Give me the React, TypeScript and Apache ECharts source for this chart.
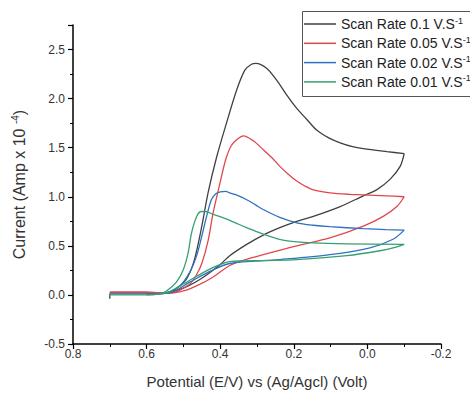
import React, { useEffect, useRef } from "react";
import * as echarts from "echarts";

const rates = ["0.1", "0.05", "0.02", "0.01"];
const colors = ["#404040", "#e0474c", "#2f72c0", "#36a070"];

// Scan 0.1 V/s — forward sweep (0.7 V -> -0.1 V)
const potAf = [0.70, 0.699, 0.65, 0.60, 0.56, 0.53, 0.51, 0.49, 0.47, 0.45, 0.433, 0.41, 0.383, 0.355, 0.333, 0.315, 0.303, 0.274, 0.247, 0.22, 0.192, 0.165, 0.138, 0.105, 0.074, 0.04, 0.011, -0.053, -0.1];
const curAf = [-0.04, 0.02, 0.02, 0.02, 0.02, 0.04, 0.09, 0.17, 0.36, 0.70, 1.04, 1.40, 1.75, 2.09, 2.29, 2.35, 2.36, 2.31, 2.19, 2.04, 1.90, 1.79, 1.68, 1.60, 1.55, 1.51, 1.49, 1.46, 1.44];
// Scan 0.1 V/s — reverse sweep (-0.1 V -> 0.6 V)
const potAr = [-0.1, -0.089, -0.062, -0.025, 0.011, 0.074, 0.147, 0.192, 0.238, 0.283, 0.328, 0.374, 0.40, 0.45, 0.50, 0.55, 0.60];
const curAr = [1.44, 1.31, 1.18, 1.07, 1.01, 0.90, 0.80, 0.75, 0.685, 0.61, 0.515, 0.40, 0.31, 0.17, 0.07, 0.02, 0.01];

// Scan 0.05 V/s
const potBf = [0.70, 0.65, 0.60, 0.56, 0.52, 0.50, 0.48, 0.465, 0.45, 0.433, 0.419, 0.40, 0.385, 0.37, 0.352, 0.337, 0.31, 0.283, 0.26, 0.238, 0.215, 0.192, 0.17, 0.147, 0.102, 0.05, 0.011, -0.05, -0.1];
const curBf = [0.03, 0.03, 0.03, 0.02, 0.03, 0.07, 0.12, 0.20, 0.32, 0.55, 0.84, 1.15, 1.38, 1.52, 1.59, 1.62, 1.57, 1.48, 1.40, 1.31, 1.23, 1.16, 1.11, 1.07, 1.04, 1.025, 1.02, 1.01, 1.0];
const potBr = [-0.1, -0.08, -0.043, 0.011, 0.102, 0.192, 0.283, 0.33, 0.374, 0.42, 0.46, 0.50, 0.54, 0.60];
const curBr = [1.0, 0.90, 0.80, 0.70, 0.58, 0.50, 0.41, 0.36, 0.30, 0.18, 0.10, 0.04, 0.015, 0.02];

// Scan 0.02 V/s
const potCf = [0.70, 0.65, 0.60, 0.565, 0.546, 0.51, 0.483, 0.464, 0.45, 0.437, 0.424, 0.412, 0.40, 0.385, 0.374, 0.35, 0.328, 0.305, 0.283, 0.238, 0.192, 0.147, 0.102, 0.011, -0.05, -0.1];
const curCf = [0.01, 0.01, 0.01, 0.01, 0.02, 0.09, 0.23, 0.40, 0.60, 0.80, 0.97, 1.03, 1.05, 1.055, 1.04, 1.01, 0.97, 0.92, 0.87, 0.79, 0.735, 0.71, 0.695, 0.675, 0.665, 0.66];
const potCr = [-0.1, -0.071, -0.007, 0.102, 0.238, 0.374, 0.428, 0.483, 0.537, 0.60];
const curCr = [0.66, 0.57, 0.48, 0.41, 0.36, 0.32, 0.24, 0.13, 0.02, 0.01];

// Scan 0.01 V/s
const potDf = [0.70, 0.65, 0.60, 0.565, 0.546, 0.519, 0.50, 0.487, 0.478, 0.464, 0.451, 0.44, 0.419, 0.395, 0.374, 0.35, 0.328, 0.305, 0.283, 0.238, 0.205, 0.174, 0.11, 0.056, -0.1];
const curDf = [0.0, 0.0, 0.0, 0.01, 0.04, 0.13, 0.26, 0.43, 0.63, 0.80, 0.85, 0.85, 0.82, 0.79, 0.76, 0.72, 0.685, 0.65, 0.62, 0.565, 0.545, 0.535, 0.525, 0.52, 0.515];
const potDr = [-0.1, -0.07, -0.034, 0.056, 0.192, 0.28, 0.374, 0.419, 0.464, 0.51, 0.546, 0.60];
const curDr = [0.515, 0.48, 0.45, 0.40, 0.36, 0.35, 0.34, 0.28, 0.19, 0.09, 0.02, 0.0];

const xTicks = [-0.2, 0.0, 0.2, 0.4, 0.6, 0.8];
const yTicks = [-0.5, 0.0, 0.5, 1.0, 1.5, 2.0, 2.5];

const sweeps = [
  [[potAf, curAf], [potAr, curAr]],
  [[potBf, curBf], [potBr, curBr]],
  [[potCf, curCf], [potCr, curCr]],
  [[potDf, curDf], [potDr, curDr]],
];

const FONT = "'Liberation Sans', Arial, sans-serif";

export default function App() {
  const ref = useRef<HTMLDivElement>(null);
  useEffect(() => {
    if (!ref.current) return;
    const chart = echarts.init(ref.current, undefined, { renderer: "svg" });
    const names = rates.map((r) => `Scan Rate ${r} V.S-1`);
    const series: any[] = [];
    sweeps.forEach((pair, i) => {
      pair.forEach(([xs, ys]) => {
        series.push({
          name: names[i],
          type: "line",
          data: xs.map((x, j) => [x, ys[j]]),
          showSymbol: false,
          symbol: "none",
          smooth: 0.3,
          lineStyle: { color: colors[i], width: 1.3 },
          itemStyle: { color: colors[i] },
        });
      });
    });
    chart.setOption({
      animation: false,
      backgroundColor: "#ffffff",
      textStyle: { fontFamily: FONT },
      grid: { left: 73, right: 29, top: 25, bottom: 50, containLabel: false },
      xAxis: {
        type: "value",
        inverse: true,
        min: xTicks[0],
        max: xTicks[xTicks.length - 1],
        interval: 0.2,
        splitLine: { show: false },
        axisLine: { show: true, onZero: false, lineStyle: { color: "#000", width: 1.5 } },
        axisTick: { show: true, inside: false, length: 5, lineStyle: { color: "#000", width: 1.2 } },
        minorTick: { show: true, splitNumber: 2, length: 3, lineStyle: { color: "#000", width: 1 } },
        axisLabel: {
          margin: 4,
          fontSize: 12,
          color: "#333",
          fontFamily: FONT,
          formatter: (v: number) => v.toFixed(1),
        },
        name: "Potential (E/V) vs (Ag/Agcl) (Volt)",
        nameLocation: "middle",
        nameGap: 30,
        nameTextStyle: { fontSize: 15, color: "#333", fontFamily: FONT },
      },
      yAxis: {
        type: "value",
        min: yTicks[0],
        max: 2.75,
        interval: 0.5,
        splitLine: { show: false },
        axisLine: { show: true, onZero: false, lineStyle: { color: "#000", width: 1.5 } },
        axisTick: { show: true, inside: false, length: 5, lineStyle: { color: "#000", width: 1.2 } },
        minorTick: { show: true, splitNumber: 2, length: 3, lineStyle: { color: "#000", width: 1 } },
        axisLabel: {
          margin: 8,
          fontSize: 12,
          color: "#333",
          fontFamily: FONT,
          formatter: (v: number) => (yTicks.some((t) => Math.abs(t - v) < 1e-6) ? v.toFixed(1) : ""),
        },
        name: "{a|Current (Amp x 10 }{b|-4}{a|)}",
        nameLocation: "middle",
        nameGap: 44,
        nameTextStyle: {
          fontSize: 16,
          color: "#333",
          fontFamily: FONT,
          rich: {
            a: { fontSize: 16, color: "#333", fontFamily: FONT, lineHeight: 19 },
            b: { fontSize: 10, color: "#333", fontFamily: FONT, verticalAlign: "top", lineHeight: 19 },
          },
        },
      },
      legend: {
        orient: "vertical",
        left: 304,
        top: 16,
        padding: 0,
        icon: "rect",
        itemWidth: 32,
        itemHeight: 1.5,
        itemGap: 4.3,
        data: names,
        formatter: (name: string) => `{a|${name.slice(0, -2)}}{b|-1}`,
        textStyle: {
          fontSize: 14,
          color: "#222",
          fontFamily: FONT,
          rich: {
            a: { fontSize: 14, color: "#222", fontFamily: FONT, lineHeight: 16 },
            b: { fontSize: 9, color: "#222", fontFamily: FONT, verticalAlign: "top", lineHeight: 16 },
          },
        },
      },
      graphic: [
        {
          type: "rect",
          shape: { x: 302.5, y: 11.5, width: 200, height: 85 },
          style: { fill: "none", stroke: "#555", lineWidth: 1 },
          silent: true,
        },
      ],
      series,
    });
    return () => chart.dispose();
  }, []);
  return (
    <div
      ref={ref}
      style={{ position: "fixed", left: 0, top: 0, width: 470, height: 394, background: "#fff" }}
    />
  );
}
